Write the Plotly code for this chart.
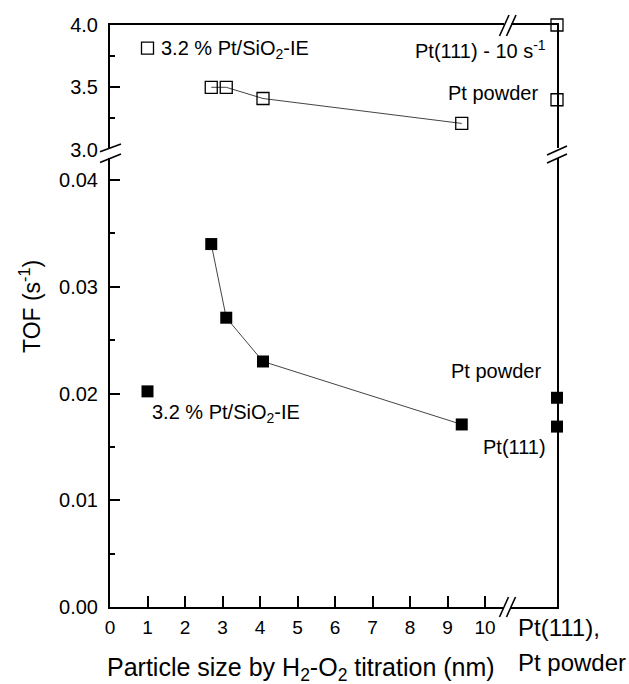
import plotly.graph_objects as go

# ---------------- data ----------------
particle_size = [2.7, 3.1, 4.08, 9.38]          # nm, H2-O2 titration
tof_low = [0.0340, 0.0271, 0.0230, 0.0171]      # s^-1 (lower panel, filled)
tof_high = [3.50, 3.50, 3.41, 3.21]             # s^-1 (upper panel, open)

ie_size = [1.0]                                 # 3.2 % Pt/SiO2-IE
ie_tof_low = [0.0202]
ie_tof_high = [3.815]

bulk_names = ["Pt(111)", "Pt powder"]           # bulk references, shown on the x-axis break slot
bulk_tof_low = [0.0169, 0.0196]
bulk_tof_high = [4.0, 3.40]

x_ticks = list(range(0, 11))
x_tick_text = [str(v) for v in x_ticks]
x_minor = [i + 0.5 for i in range(0, 10)]
y_low_ticks = [0.00, 0.01, 0.02, 0.03, 0.04]
y_low_minor = [0.005, 0.015, 0.025, 0.035]
y_high_ticks = [3.0, 3.5, 4.0]
y_high_minor = [3.25, 3.75]

# ---------------- layout geometry (pixels) ----------------
FW, FH = 629, 684
L, R, T, B = 110, 557, 25, 607
W, H = R - L, B - T


def px(x):
    return (x - L) / W


def py(y):
    return (B - y) / H


X_MAX = 11.92          # right end of the x-axis = slot of the bulk references
bulk_x = [X_MAX] * len(bulk_names)
top_bottom_px = 149.6
low_top_px = 158
y_low_top = 0.04 * (B - low_top_px) / (B - 180)

FONT = "Liberation Sans, Arial, sans-serif"

fig = go.Figure()

line_style = dict(color="#444444", width=1)
filled_marker = dict(symbol="square", size=12, color="black")
open_marker = dict(symbol="square-open", size=12, color="black", line=dict(width=1.3, color="black"))

# lower panel
fig.add_trace(go.Scatter(x=particle_size, y=tof_low, mode="lines+markers", line=line_style,
                         marker=filled_marker, xaxis="x", yaxis="y", cliponaxis=False, showlegend=False))
fig.add_trace(go.Scatter(x=ie_size, y=ie_tof_low, mode="markers", marker=filled_marker,
                         xaxis="x", yaxis="y", cliponaxis=False, showlegend=False))
fig.add_trace(go.Scatter(x=bulk_x, y=bulk_tof_low, mode="markers", text=bulk_names,
                         marker=filled_marker, xaxis="x", yaxis="y", cliponaxis=False, showlegend=False))

# upper panel
fig.add_trace(go.Scatter(x=particle_size, y=tof_high, mode="lines+markers", line=line_style,
                         marker=open_marker, xaxis="x2", yaxis="y2", cliponaxis=False, showlegend=False))
fig.add_trace(go.Scatter(x=ie_size, y=ie_tof_high, mode="markers", marker=open_marker,
                         xaxis="x2", yaxis="y2", cliponaxis=False, showlegend=False))
fig.add_trace(go.Scatter(x=bulk_x, y=bulk_tof_high, mode="markers", text=bulk_names,
                         marker=open_marker, xaxis="x2", yaxis="y2", cliponaxis=False, showlegend=False))

axis_common = dict(showgrid=False, zeroline=False, showline=True, linecolor="black", linewidth=2)

fig.update_layout(
    width=FW, height=FH,
    margin=dict(l=L, r=FW - R, t=T, b=FH - B, pad=0),
    paper_bgcolor="white", plot_bgcolor="white",
    font=dict(family=FONT, color="black", size=20),
    xaxis=dict(**axis_common, domain=[0, 1], range=[0, X_MAX], anchor="y",
               tickmode="array", tickvals=x_ticks, ticktext=x_tick_text,
               ticks="inside", ticklen=11, tickwidth=1.5,
               tickcolor="black", tickfont=dict(size=19, family=FONT, color="black"),
               ticklabelstandoff=2),
    # minor x ticks drawn by an overlaid, label-free axis
    xaxis3=dict(overlaying="x", anchor="y", range=[0, X_MAX], showline=False, showgrid=False,
                zeroline=False, tickmode="array", tickvals=x_minor, ticks="inside",
                ticklen=6, tickwidth=1.5, tickcolor="black", showticklabels=False),
    yaxis=dict(**axis_common, domain=[0, py(low_top_px)], range=[0, y_low_top], anchor="x",
               mirror=True, tickmode="array", tickvals=y_low_ticks, tickformat=".2f",
               ticks="inside", ticklen=10, tickwidth=1.5, tickcolor="black",
               tickfont=dict(size=20), ticklabelstandoff=6,
               minor=dict(tickmode="array", tickvals=y_low_minor, ticks="inside", ticklen=5,
                          tickwidth=1.5, tickcolor="black")),
    xaxis2=dict(**axis_common, domain=[0, 1], range=[0, X_MAX], anchor="y2", side="top",
                showticklabels=False, ticks=""),
    yaxis2=dict(**axis_common, domain=[py(top_bottom_px), 1], range=[3.0, 4.0], anchor="x2",
                mirror=True, tickmode="array", tickvals=y_high_ticks, tickformat=".1f",
                ticks="inside", ticklen=10, tickwidth=1.5, tickcolor="black",
                tickfont=dict(size=20), ticklabelstandoff=6,
                minor=dict(tickmode="array", tickvals=y_high_minor, ticks="inside", ticklen=5,
                           tickwidth=1.5, tickcolor="black")),
)

# ---------------- axis breaks ----------------
shapes = []


def paper_rect(x0, y0, x1, y1):
    shapes.append(dict(type="rect", xref="paper", yref="paper",
                       x0=px(x0), x1=px(x1), y0=py(y0), y1=py(y1),
                       fillcolor="white", line=dict(width=0), layer="above"))


def paper_line(x0, y0, x1, y1):
    shapes.append(dict(type="line", xref="paper", yref="paper",
                       x0=px(x0), x1=px(x1), y0=py(y0), y1=py(y1),
                       line=dict(color="black", width=1.6), layer="above"))


# left y-axis break
paper_rect(106, 148, 114, 158)
paper_line(100, 151.7, 121, 144)
paper_line(100, 162.5, 121, 154)
# right y-axis break
paper_rect(553, 148, 561, 158)
paper_line(547, 155, 567, 146)
paper_line(547, 163, 567, 154)
# top x-axis break
paper_rect(504, 22, 511.5, 28)
paper_line(499.5, 36, 509, 15)
paper_line(506.5, 36, 516, 15)
# bottom x-axis break
paper_rect(504, 604, 511, 610)
paper_line(499.5, 617, 508.5, 597)
paper_line(506.5, 617, 515.5, 597)

fig.update_layout(shapes=shapes)

# ---------------- annotations ----------------
ann = []


def text(x, y, s, size=20, xanchor="left", yanchor="middle", angle=0):
    ann.append(dict(xref="paper", yref="paper", x=px(x), y=py(y), text=s, showarrow=False,
                    xanchor=xanchor, yanchor=yanchor, textangle=angle,
                    font=dict(size=size, family=FONT, color="black")))


text(159, 50, "3.2 % Pt/SiO<sub>2</sub>-IE")
text(548, 50, "Pt(111) - 10 s<sup>-1</sup>", xanchor="right")
text(540, 93, "Pt powder", xanchor="right")
text(543, 371, "Pt powder", xanchor="right")
text(548, 447, "Pt(111)", xanchor="right")
text(150, 413, "3.2 % Pt/SiO<sub>2</sub>-IE")
text(516, 627, "Pt(111),", size=24)
text(516, 662, "Pt powder", size=24)
text(301, 669, "Particle size by H<sub>2</sub>-O<sub>2</sub> titration (nm)", size=25, xanchor="center")
text(30, 307, "TOF (s<sup>-1</sup>)", size=23, xanchor="center", angle=-90)

fig.update_layout(annotations=ann)

fig.write_html("out.html")
